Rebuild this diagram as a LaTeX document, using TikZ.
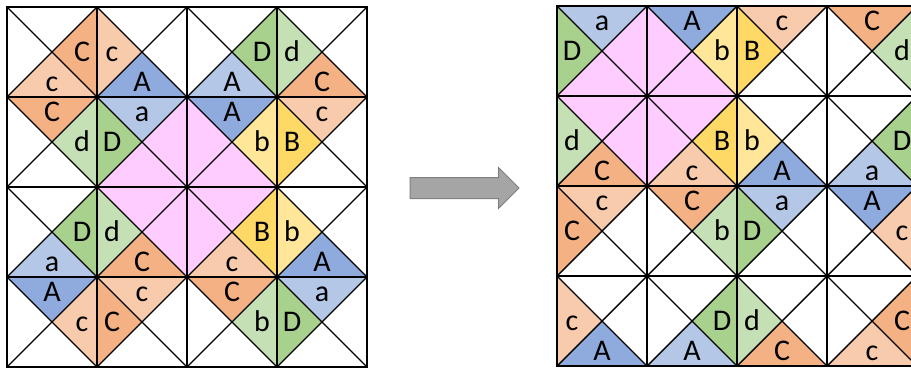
\documentclass[tikz,border=0pt]{standalone}
\usepackage{fontspec}
\setmainfont{Carlito}
\usetikzlibrary{shapes.arrows}
\definecolor{orangeD}{HTML}{F4B183}
\definecolor{orangeL}{HTML}{F8CBAD}
\definecolor{blueD}{HTML}{8FAADC}
\definecolor{blueL}{HTML}{B4C7E7}
\definecolor{greenD}{HTML}{A9D18E}
\definecolor{greenL}{HTML}{C5E0B4}
\definecolor{goldD}{HTML}{FFD966}
\definecolor{goldL}{HTML}{FFE699}
\definecolor{pinkF}{HTML}{FFCCFF}
\definecolor{arrowF}{HTML}{A5A5A5}
\definecolor{arrowE}{HTML}{7F7F7F}
\tikzset{
  lab/.style={font=\fontsize{30}{30}\selectfont, inner sep=0pt, text height=19pt, text depth=0pt, text=black},
  gridline/.style={line width=2pt, line cap=rect},
  diag/.style={line width=1.4pt},
  bigarrow/.style={single arrow, fill=arrowF, draw=arrowE, line width=1pt,
    minimum height=109pt, single arrow head extend=10pt,
    inner xsep=0pt, inner ysep=10pt, text height=0pt, text depth=0pt},
}
\begin{document}
\begin{tikzpicture}[x=1pt,y=-1pt]
\useasboundingbox (0,0) rectangle (911,373);
\begin{scope}
\clip (0,0) rectangle (911,373);
% pink centre diamonds: grid x/y, row, column, side angle
\foreach \gx/\gy/\r/\c/\a in {
  7/7/1/1/0, 7/7/1/1/90, 7/7/1/2/180, 7/7/1/2/90,
  7/7/2/1/-90, 7/7/2/1/0, 7/7/2/2/-90, 7/7/2/2/180,
  557/6/0/0/0, 557/6/0/0/90, 557/6/0/1/180, 557/6/0/1/90,
  557/6/1/0/-90, 557/6/1/0/0, 557/6/1/1/-90, 557/6/1/1/180}{
  \fill[pinkF] ({\gx+90*\c+45},{\gy+90*\r+45}) -- ++(\a-45:63.64) -- ++(\a+90:90) -- cycle;
}
% lettered triangles
\foreach \gx/\gy/\r/\c/\a/\col/\lab [count=\i] in {
  7/7/0/0/0/orangeD/C, 7/7/0/0/90/orangeL/c,
  7/7/0/1/180/orangeL/c, 7/7/0/1/90/blueD/A,
  7/7/0/2/0/greenD/D, 7/7/0/2/90/blueL/A,
  7/7/0/3/180/greenL/d, 7/7/0/3/90/orangeD/C,
  7/7/1/0/-90/orangeD/C, 7/7/1/0/0/greenL/d,
  7/7/1/1/-90/blueL/a, 7/7/1/1/180/greenD/D,
  7/7/1/2/-90/blueD/A, 7/7/1/2/0/goldL/b,
  7/7/1/3/-90/orangeL/c, 7/7/1/3/180/goldD/B,
  7/7/2/0/0/greenD/D, 7/7/2/0/90/blueL/a,
  7/7/2/1/180/greenL/d, 7/7/2/1/90/orangeD/C,
  7/7/2/2/0/goldD/B, 7/7/2/2/90/orangeL/c,
  7/7/2/3/180/goldL/b, 7/7/2/3/90/blueD/A,
  7/7/3/0/-90/blueD/A, 7/7/3/0/0/orangeL/c,
  7/7/3/1/-90/orangeL/c, 7/7/3/1/180/orangeD/C,
  7/7/3/2/-90/orangeD/C, 7/7/3/2/0/greenL/b,
  7/7/3/3/-90/blueL/a, 7/7/3/3/180/greenD/D,
  557/6/0/0/-90/blueL/a, 557/6/0/0/180/greenD/D,
  557/6/0/1/-90/blueD/A, 557/6/0/1/0/goldL/b,
  557/6/0/2/-90/orangeL/c, 557/6/0/2/180/goldD/B,
  557/6/0/3/-90/orangeD/C, 557/6/0/3/0/greenL/d,
  557/6/1/0/180/greenL/d, 557/6/1/0/90/orangeD/C,
  557/6/1/1/0/goldD/B, 557/6/1/1/90/orangeL/c,
  557/6/1/2/180/goldL/b, 557/6/1/2/90/blueD/A,
  557/6/1/3/0/greenD/D, 557/6/1/3/90/blueL/a,
  557/6/2/0/-90/orangeL/c, 557/6/2/0/180/orangeD/C,
  557/6/2/1/-90/orangeD/C, 557/6/2/1/0/greenL/b,
  557/6/2/2/-90/blueL/a, 557/6/2/2/180/greenD/D,
  557/6/2/3/-90/blueD/A, 557/6/2/3/0/orangeL/c,
  557/6/3/0/180/orangeL/c, 557/6/3/0/90/blueD/A,
  557/6/3/1/0/greenD/D, 557/6/3/1/90/blueL/A,
  557/6/3/2/180/greenL/d, 557/6/3/2/90/orangeD/C,
  557/6/3/3/0/orangeD/C, 557/6/3/3/90/orangeL/c}{
  \fill[\col] ({\gx+90*\c+45},{\gy+90*\r+45}) -- ++(\a-45:63.64) -- ++(\a+90:90) -- cycle;
  \path ({\gx+90*\c+45},{\gy+90*\r+45}) ++(\a:30) node[lab] (t\i) {\lab};
}
% cell edges and diagonals
\foreach \gx/\gy in {7/7, 557/6}{
  \foreach \r in {0,...,3}{
    \foreach \c in {0,...,3}{
      \draw[diag] ({\gx+90*\c},{\gy+90*\r}) -- ++(90,90);
      \draw[diag] ({\gx+90*\c+90},{\gy+90*\r}) -- ++(-90,90);
    }
  }
  \foreach \k in {0,...,4}{
    \draw[gridline] ({\gx+90*\k},\gy) -- ++(0,360);
    \draw[gridline] (\gx,{\gy+90*\k}) -- ++(360,0);
  }
}
\end{scope}
\node[bigarrow, anchor=tail] (arrow) at (409.5,188) {};
\end{tikzpicture}
\end{document}
